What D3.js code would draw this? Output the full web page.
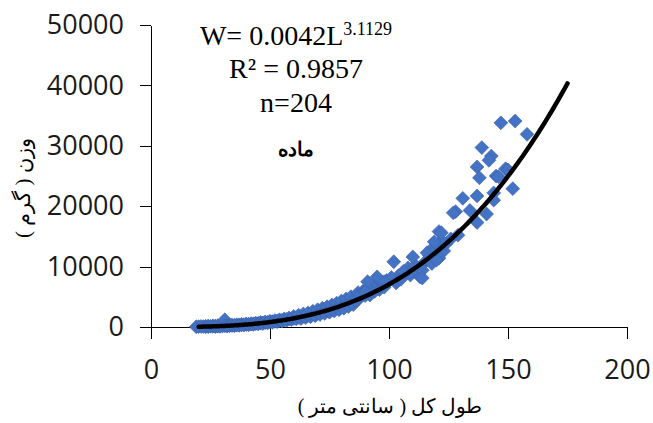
<!DOCTYPE html>
<html>
<head>
<meta charset="utf-8">
<script src="https://cdn.jsdelivr.net/npm/d3@7"></script>
<style>
  body { margin: 0; background: #fff; }
  svg { display: block; }
</style>
</head>
<body>
<svg id="chart" width="653" height="423"></svg>
<script>
// total length (cm), weight (g)
const smallFish = [
  [19,40],[20,60],[21,90],[22,70],[23,110],[23,50],[24,90],[24,150],[25,120],[26,110],
  [26,160],[27,140],[27,90],[28,130],[28,200],[29,160],[29,120],[30,170],[30,230],[31,1200],
  [31,190],[32,210],[32,150],[33,260],[33,200],[34,240],[34,310],[35,270],[35,220],[36,300],
  [36,370],[37,330],[37,260],[38,350],[38,420],[39,380],[39,320],[40,410],[40,500],[41,450],
  [41,380],[42,470],[42,560],[43,520],[43,430],[44,550],[44,640],[45,600],[45,520],[46,630],
  [46,740],[47,680],[47,580],[48,720],[48,830],[49,770],[49,690],[50,820],[50,950],[51,880],
  [51,780],[52,920],[52,1060],[53,990],[53,880],[54,1040],[54,1200],[55,1100],[55,980],[56,1160],
  [56,1350],[57,1240],[57,1100],[58,1300],[58,1500],[59,1380],[59,1230],[60,1440],[60,1750],[61,1520],
  [61,1350],[62,1600],[62,1950],[63,1690],[63,1400],[64,1760],[64,2150],[65,1850],[65,1550],[66,1940],
  [66,2350],[67,2030],[67,1700],[68,2130],[68,2600],[69,2220],[69,1850],[70,2320],[70,2850],[71,2430],
  [71,2050],[72,2550],[72,3100],[73,2660],[73,2250],[74,2770],[74,3350],[75,2900],[75,2450],[76,3010],
  [76,3650],[77,3150],[77,2650],[78,3260],[78,3950],[79,3400],[79,2850],[80,3520],[80,4300],[81,3650],
  [81,3100],[82,3800],[82,4650],[83,3950],[83,3400],[84,4100],[84,5000],[85,4250],[85,3700]
];
const midFish = [
  [86,4800],[87,5700],[88,4900],[89,5900],[90,5200],[91,6400],[92,5300],[93,6900],[94,5900],
  [95,7100],[96,6200],[97,7400],[98,6600],[99,7700],[91,7500],[86,4300],[88,5300],[90,5800],
  [104,8500],[107,8900],[108,9800],[112,9800],[115,10700],[117,11800],[116,12300],[123,12600],
  [124,13800],[126,14600],[122,14300],[100,7600],[101,8200],[103,7300],[105,7900],[109,8600],
  [111,10200],[118,11200]
];
const largeFish = [
  [147,33800],[153,34100],[158,31900],[139,29700],[143,28300],[142,27600],[137,26500],[138,24700],
  [145,25000],[149,26200],[146,24900],[152,22900],[131,21300],[137,21700],[144,22200],[128,19100],
  [134,19300],[141,18700],[137,17300],[121,15800],[129,15200],[119,13300],[121,11400],[113,8300],
  [110,11600],[119,14100],[118,10500],[114,9400],[102,10800],[95,8300],[114,8100],[106,9200],
  [98,7500],[120,11100],[144,21000],[150,26000],[127,18900],[122,15600]
];

const xTicks = [0, 50, 100, 150, 200];
const yTicks = [0, 10000, 20000, 30000, 40000, 50000];

// power trendline W = a L^b
const fitA = 0.0042, fitB = 3.1129;
const fitFrom = 20, fitTo = 175;
const fitR2 = "0.9857", fitN = 204;

const svg = d3.select("#chart");

const x = d3.scaleLinear().domain([0, 200]).range([151, 627]);
const y = d3.scaleLinear().domain([0, 50000]).range([327, 25]);

// axes
const gy = svg.append("g")
  .attr("transform", "translate(151,0)")
  .call(d3.axisLeft(y).tickValues(yTicks).tickSize(11).tickSizeOuter(0).tickPadding(16).tickFormat(d3.format("d")));

const gx = svg.append("g")
  .attr("transform", "translate(0,327)")
  .call(d3.axisBottom(x).tickValues(xTicks).tickSize(12).tickSizeOuter(0).tickPadding(21).tickFormat(d3.format("d")));

[gx, gy].forEach(g => {
  g.selectAll("path, line").attr("stroke", "#000").attr("shape-rendering", "crispEdges");
  g.selectAll("text")
    .style("font-family", "'Open Sans', sans-serif")
    .style("font-size", "27px")
    .attr("fill", "#1a1a1a");
});

// points
const allFish = smallFish.concat(midFish, largeFish);
const diamond = d3.symbol(d3.symbolSquare, 96);

svg.append("g")
  .selectAll("path")
  .data(allFish)
  .join("path")
  .attr("d", diamond)
  .attr("transform", d => `translate(${x(d[0])},${y(d[1])}) rotate(45)`)
  .attr("fill", "#4472C4")
  .attr("stroke", "#3a62aa")
  .attr("stroke-width", 0.6);

// trendline
const fitL = d3.range(fitFrom, fitTo + 0.5, 1);
const line = d3.line()
  .x(L => x(L))
  .y(L => y(fitA * Math.pow(L, fitB)))
  .curve(d3.curveMonotoneX);

svg.append("path")
  .datum(fitL)
  .attr("d", line)
  .attr("fill", "none")
  .attr("stroke", "#000")
  .attr("stroke-width", 4.5)
  .attr("stroke-linecap", "round");

// annotation
const serif = "'Liberation Serif', 'Times New Roman', serif";
const eq = svg.append("text")
  .attr("x", 296).attr("y", 45)
  .attr("text-anchor", "middle")
  .style("font-family", serif).style("font-size", "28px");
eq.append("tspan").text(`W= ${fitA}L`);
eq.append("tspan").attr("dy", -10).style("font-size", "18px").text(fitB);

svg.append("text")
  .attr("x", 296).attr("y", 78)
  .attr("text-anchor", "middle")
  .style("font-family", serif).style("font-size", "28px")
  .text(`R² = ${fitR2}`);

svg.append("text")
  .attr("x", 296).attr("y", 112)
  .attr("text-anchor", "middle")
  .style("font-family", serif).style("font-size", "28px")
  .text(`n=${fitN}`);

svg.append("text")
  .attr("x", 296).attr("y", 156)
  .attr("text-anchor", "middle")
  .style("font-family", serif).style("font-size", "20px").style("font-weight", "bold")
  .text("ماده");

// axis titles
svg.append("text")
  .attr("x", 390).attr("y", 413)
  .attr("text-anchor", "middle")
  .style("font-family", serif).style("font-size", "20px")
  .text("طول کل ( سانتی متر )");

svg.append("text")
  .attr("transform", "translate(25,188) rotate(-90)")
  .attr("text-anchor", "middle")
  .attr("dominant-baseline", "middle")
  .style("font-family", serif).style("font-size", "21px")
  .text("وزن ( گرم )");
</script>
</body>
</html>
